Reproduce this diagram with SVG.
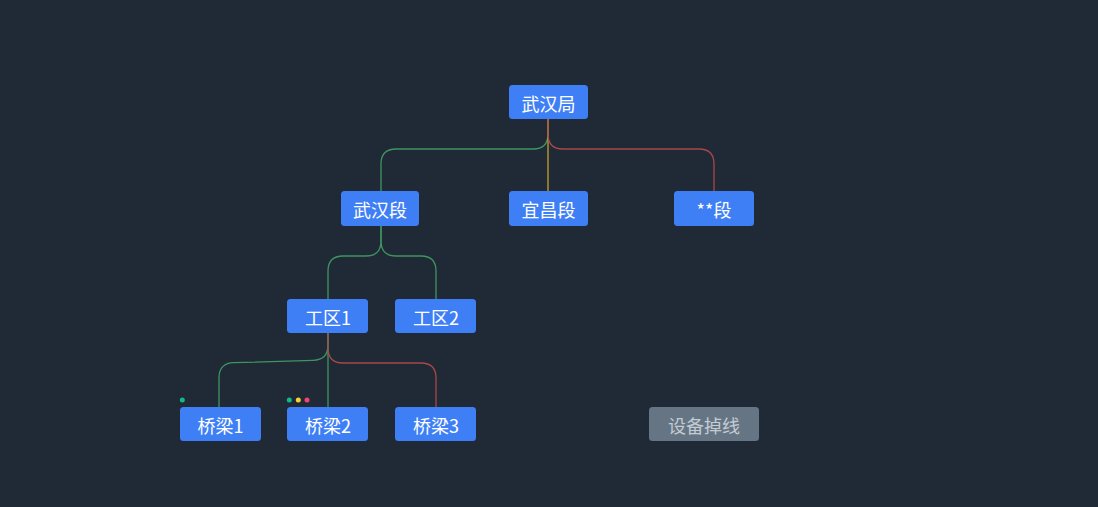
<svg xmlns="http://www.w3.org/2000/svg" width="1098" height="507" viewBox="0 0 1098 507">
<style>
.bg{fill:#202936}
.node rect{fill:#3f7ff5}
.node text{fill:#ffffff;font-family:"Noto Sans CJK SC","Noto Sans",sans-serif;font-size:18px;text-anchor:middle;dominant-baseline:central}
.off rect{fill:#667584}
.off text{fill:#c3cbd3}
.c{fill:none;stroke-width:1.3}
.g{stroke:#3e9560}
.r{stroke:#a84848}
.y{stroke:#c7a32a}
</style>
<rect class="bg" width="1098" height="507"/>
<g id="connectors">
<path class="c g" d="M548,119 V134 Q548,149 533,149 H396 Q381,149 381,164 V191"/>
<path class="c y" d="M548,119 V191"/>
<path class="c r" d="M548,119 V134 Q548,149 563,149 H699 Q714,149 714,164 V191"/>
<path class="c g" d="M381,226 V241 Q381,256 366,256 H343 Q328,256 328,271 V299"/>
<path class="c g" d="M381,226 V241 Q381,256 396,256 H421 Q436,256 436,271 V299"/>
<path class="c g" d="M328,333 V345 Q328,360 313,360.3 L234,362.7 Q219,363 219,378 V407"/>
<path class="c g" d="M328,333 V407"/>
<path class="c r" d="M328,333 V348 Q328,363 343,363 H421 Q436,363 436,378 V407"/>
</g>
<g id="n-wuhanju" class="node"><rect x="509" y="85" width="79" height="34" rx="3.5"/><text x="548.5" y="102.5">武汉局</text></g>
<g id="n-wuhanduan" class="node"><rect x="341" y="191" width="78" height="35" rx="3.5"/><text x="380" y="209">武汉段</text></g>
<g id="n-yichangduan" class="node"><rect x="509" y="191" width="79" height="35" rx="3.5"/><text x="548.5" y="209">宜昌段</text></g>
<g id="n-duan" class="node"><rect x="674" y="191" width="80" height="35" rx="3.5"/><text x="714" y="209">**段</text></g>
<g id="n-gongqu1" class="node"><rect x="287" y="299" width="81" height="34" rx="3.5"/><text x="328" y="316.5">工区1</text></g>
<g id="n-gongqu2" class="node"><rect x="395" y="299" width="81" height="34" rx="3.5"/><text x="436" y="316.5">工区2</text></g>
<g id="n-qiaoliang1" class="node"><rect x="180" y="407" width="81" height="34" rx="3.5"/><text x="220.5" y="424.5">桥梁1</text></g>
<g id="n-qiaoliang2" class="node"><rect x="287" y="407" width="81" height="34" rx="3.5"/><text x="328" y="424.5">桥梁2</text></g>
<g id="n-qiaoliang3" class="node"><rect x="395" y="407" width="81" height="34" rx="3.5"/><text x="436" y="424.5">桥梁3</text></g>
<g id="n-offline" class="node off"><rect x="649" y="407" width="110" height="34" rx="3.5"/><text x="704" y="424.5">设备掉线</text></g>
<g id="dots">
<circle cx="182.3" cy="400" r="2.5" fill="#12b886"/>
<circle cx="289.3" cy="400" r="2.5" fill="#12b886"/>
<circle cx="298.3" cy="400" r="2.5" fill="#f5d234"/>
<circle cx="307" cy="400" r="2.5" fill="#f0437a"/>
</g>
</svg>
